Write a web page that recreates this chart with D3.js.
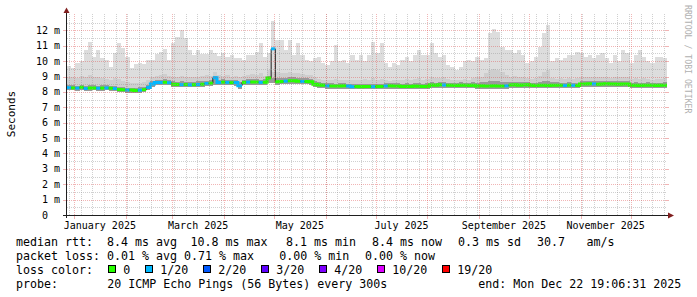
<!DOCTYPE html>
<html>
<head>
<meta charset="utf-8">
<script src="https://cdn.jsdelivr.net/npm/d3@7"></script>
<style>
body { margin: 0; background: #fff; }
text { font-family: "DejaVu Sans Mono", monospace; }
</style>
</head>
<body>
<div id="chart"></div>
<script>
// smokeping style latency graph, last 360 days

var width = 697;
var height = 297;

var endTime = new Date(2025, 11, 22, 19, 6, 31);
var spanDays = 360;
var stepDays = 2.5;

// median rtt per consolidated column (ms)
var medianRtt = [
  8.28,8.26,8.25,8.30,8.22,8.25,8.26,8.24,8.25,8.26,8.24,8.22,
  8.15,8.14,8.13,8.12,8.10,8.12,8.15,8.28,
  8.52,8.62,8.62,8.63,8.60,
  8.50,8.48,8.47,8.48,8.46,8.47,8.48,8.50,8.55,8.57,
  8.92,
  8.62,8.64,8.62,8.60,8.62,
  8.40,
  8.62,8.64,8.65,8.64,8.62,8.63,
  8.90,10.80,
  8.66,8.67,8.70,8.72,8.72,8.70,8.68,8.67,8.66,
  8.50,8.45,8.44,
  8.40,8.39,8.38,8.39,8.40,8.38,
  8.34,8.35,8.34,8.36,8.35,8.34,8.35,8.36,
  8.39,8.40,8.38,8.39,
  8.36,8.37,8.36,8.38,8.37,8.36,8.37,
  8.45,8.44,8.46,8.45,8.44,
  8.43,8.42,8.44,8.43,8.42,8.43,
  8.39,8.40,8.38,8.39,8.40,8.39,8.38,8.40,
  8.45,8.46,8.44,8.45,8.46,
  8.43,8.42,8.44,8.43,8.42,8.43,8.44,8.43,8.42,8.44,8.43,8.42,
  8.52,8.51,8.53,8.52,8.50,8.52,8.53,8.51,8.52,8.50,8.51,8.52,
  8.43,8.44,8.42,8.43,8.44,8.43,8.42,8.43,8.44
];

// lowest ping per column (ms)
var pingMin = [
  8.12,8.10,8.08,8.12,8.06,8.08,8.10,8.08,8.09,8.10,8.08,8.06,
  7.98,7.97,7.96,7.95,7.94,7.96,7.98,8.10,
  8.34,8.44,8.44,8.45,8.42,
  8.32,8.30,8.30,8.31,8.29,8.30,8.31,8.33,8.36,8.38,
  8.45,
  8.44,8.46,8.44,8.42,8.40,
  8.22,
  8.44,8.46,8.47,8.46,8.44,8.45,
  8.55,8.60,
  8.48,8.49,8.52,8.54,8.54,8.52,8.50,8.49,8.48,
  8.32,8.27,8.26,
  8.22,8.21,8.20,8.21,8.22,8.20,
  8.16,8.17,8.16,8.18,8.17,8.16,8.17,8.18,
  8.21,8.22,8.20,8.21,
  8.18,8.19,8.18,8.20,8.19,8.18,8.19,
  8.27,8.26,8.28,8.27,8.26,
  8.25,8.24,8.26,8.25,8.24,8.25,
  8.21,8.22,8.20,8.21,8.22,8.21,8.20,8.22,
  8.27,8.28,8.26,8.27,8.28,
  8.25,8.24,8.26,8.25,8.24,8.25,8.26,8.25,8.24,8.26,8.25,8.24,
  8.34,8.33,8.35,8.34,8.32,8.34,8.35,8.33,8.34,8.32,8.33,8.34,
  8.25,8.26,8.24,8.25,8.26,8.25,8.24,8.25,8.26
];

// inner smoke top (ms)
var pingP75 = [
  8.45,8.42,8.40,8.48,8.40,8.45,8.42,8.40,8.44,8.42,8.40,8.38,
  8.32,8.30,8.28,8.28,8.26,8.30,8.32,8.45,
  8.70,8.80,8.80,8.82,8.78,
  8.68,8.66,8.70,8.66,8.64,8.66,8.68,8.70,8.74,8.76,
  9.05,
  8.80,8.82,8.80,8.78,8.80,
  8.65,
  8.80,8.82,8.84,8.82,8.80,8.82,
  9.05,8.90,
  8.88,8.90,8.92,8.95,8.94,8.92,8.90,8.88,8.86,
  8.68,8.62,8.60,
  8.56,8.55,8.54,8.55,8.56,8.54,
  8.52,8.52,8.50,8.54,8.52,8.52,8.53,8.54,
  8.56,8.58,8.55,8.56,
  8.54,8.55,8.54,8.56,8.55,8.54,8.55,
  8.62,8.60,8.64,8.62,8.60,
  8.60,8.58,8.62,8.60,8.58,8.62,
  8.60,8.62,8.65,8.70,8.72,8.70,8.66,8.62,
  8.64,8.66,8.62,8.64,8.65,
  8.60,8.60,8.64,8.70,8.72,8.62,8.62,8.60,8.60,8.62,8.60,8.60,
  8.70,8.68,8.72,8.70,8.68,8.70,8.72,8.68,8.70,8.68,8.68,8.70,
  8.60,8.62,8.60,8.60,8.62,8.60,8.58,8.60,8.62
];

// middle smoke top (ms)
var pingP90 = [
  9.00,8.95,8.90,9.05,8.95,9.10,8.95,9.00,8.90,8.85,8.80,8.90,
  8.85,8.70,8.65,8.60,8.55,8.60,8.65,8.80,
  9.00,9.05,9.10,9.15,9.05,
  9.00,8.95,9.05,9.00,8.95,8.95,9.00,9.05,9.10,9.05,
  9.30,
  9.10,9.05,9.10,9.00,9.05,
  9.00,
  9.05,9.10,9.15,9.10,9.20,9.05,
  9.40,9.30,
  9.30,9.25,9.20,9.30,9.25,9.20,9.15,9.10,9.10,
  8.95,8.85,8.80,
  8.80,8.75,8.85,8.80,8.75,8.80,
  8.75,8.80,8.75,8.85,8.80,8.90,8.80,8.85,
  8.75,8.70,8.75,8.75,
  8.80,8.85,8.80,8.85,8.90,8.80,8.85,
  8.95,8.90,8.90,8.95,8.85,
  8.80,8.75,8.80,8.85,8.80,8.90,
  8.95,9.00,9.20,9.40,9.50,9.45,9.30,9.10,
  9.00,9.05,8.95,9.00,8.90,
  8.85,8.90,9.05,9.30,9.40,8.90,8.85,8.90,8.85,8.90,8.85,8.90,
  9.00,8.95,9.00,8.95,8.95,9.00,8.95,8.90,9.00,8.95,9.00,8.95,
  8.85,8.90,8.85,8.90,8.85,8.80,8.85,8.85,8.90
];

// highest ping per column (ms)
var pingMax = [
  9.71,9.58,9.90,10.00,10.70,11.25,10.30,10.75,10.20,10.10,9.65,10.55,
  11.15,10.85,10.30,9.55,9.80,9.90,9.80,10.05,10.10,10.45,10.60,10.80,
  10.10,11.15,11.60,12.00,11.50,10.75,10.40,10.70,
  10.45,10.45,10.75,10.55,10.35,10.55,10.30,10.40,10.20,10.20,
  10.10,10.40,10.40,10.60,11.15,10.30,10.50,
  12.60,
  11.40,11.40,10.75,11.40,10.40,11.15,10.40,10.10,10.00,10.20,10.30,9.85,
  9.75,10.00,11.05,10.00,10.10,9.85,10.40,10.10,10.40,10.00,10.40,11.25,
  10.50,11.15,9.85,9.65,9.85,9.75,10.10,10.30,10.00,10.40,10.75,10.40,
  10.40,11.15,10.50,
  10.30,10.40,
  9.75,9.65,9.45,9.65,10.00,10.10,10.00,10.30,10.10,10.20,11.85,12.10,
  11.90,10.95,10.75,10.75,10.50,10.75,10.40,9.85,10.00,10.30,10.95,11.80,
  12.35,10.00,10.20,10.10,10.20,10.40,10.40,10.60,10.50,10.30,10.40,10.20,
  10.40,10.50,10.20,9.85,10.40,10.00,10.70,10.50,9.85,10.40,10.70,10.30,
  10.00,9.85,10.30,10.30,10.20
];

// lost pings (out of 20) per column
var lossCount = [
  1,0,1,0,1,0,0,1,0,1,0,1,0,0,1,0,0,1,0,1,
  1,1,1,0,1,0,0,1,0,1,0,1,0,1,0,1,1,0,1,0,
  1,1,0,1,0,0,1,0,0,1,0,0,1,0,0,0,1,0,0,0,
  0,0,1,0,0,0,0,1,1,0,0,0,0,1,0,0,1,0,0,0,
  0,0,0,0,0,0,0,0,0,0,1,0,0,0,0,0,0,0,0,0,
  0,0,0,0,0,1,0,0,0,0,0,0,0,0,0,0,0,0,0,1,
  0,1,0,0,0,0,1,0,0,0,0,0,0,0,0,0,0,0,0,0,0,0,0,0
];

var lossLevels = [0, 1, 2, 3, 4, 10, 19];
var lossLabels = ["0", "1/20", "2/20", "3/20", "4/20", "10/20", "19/20"];
var lossColors = ["#26ff00", "#00b8ff", "#0059ff", "#5e00ff", "#7e00ff", "#dd00ff", "#ff0000"];

var yTicks = [0, 1, 2, 3, 4, 5, 6, 7, 8, 9, 10, 11, 12];

var rttStats = ["8.4 ms avg", "10.8 ms max", "8.1 ms min", "8.4 ms now", "0.3 ms sd", "30.7", "am/s"];
var lossStats = ["0.01 % avg", "0.71 % max", "0.00 % min", "0.00 % now"];
var probeText = "20 ICMP Echo Pings (56 Bytes) every 300s";
var endText = "end: Mon Dec 22 19:06:31 2025";

var rttX = [107, 190.5, 286, 372, 458, 537, 586.5];
var lossX = [107, 184, 279.3, 365];

var n = medianRtt.length;
var startTime = new Date(endTime.getTime() - spanDays * 864e5);

function colTime(k) {
    return new Date(startTime.getTime() + k * stepDays * 864e5);
}

function lossColor(c) {
    var idx = 0;
    for (var i = 0; i < lossLevels.length; i++) {
        if (c >= lossLevels[i]) idx = i;
    }
    return lossColors[idx];
}

var x = d3.scaleTime()
    .domain([startTime, endTime])
    .range([67, 667]);

var y = d3.scaleLinear()
    .domain([0, 13])
    .range([215, 15]);

var svg = d3.select("#chart")
    .append("svg")
    .attr("width", width)
    .attr("height", height)
    .style("display", "block");

svg.append("rect")
    .attr("width", width)
    .attr("height", height)
    .attr("fill", "#fff");

var plot = svg.append("g").attr("class", "plot");

// columns plus closing point so the last step gets its full width
var cols = d3.range(n + 1).map(function(i) {
    return {t: colTime(i), k: Math.min(i, n - 1)};
});

function smokeBand(top, color) {
    var area = d3.area()
        .curve(d3.curveStepAfter)
        .x(function(d) { return x(d.t); })
        .y0(function(d) { return y(pingMin[d.k]); })
        .y1(function(d) { return y(top[d.k]); });
    plot.append("path")
        .datum(cols)
        .attr("d", area)
        .attr("fill", color)
        .attr("shape-rendering", "crispEdges");
}

smokeBand(pingMax, "#dddddd");
smokeBand(pingP90, "#cecece");
smokeBand(pingP75, "#9a9a9a");

// thin dark median underneath the coloured one
var medLine = d3.line()
    .curve(d3.curveStepAfter)
    .x(function(d) { return x(d.t); })
    .y(function(d) { return y(medianRtt[d.k]); });

plot.append("path")
    .datum(cols)
    .attr("d", medLine)
    .attr("fill", "none")
    .attr("stroke", "#202020")
    .attr("stroke-width", 1);

// coloured median, split into runs of the same loss colour
var k = 0;
while (k < n) {
    var c = lossColor(lossCount[k]);
    var run = [];
    var j = k;
    while (j < n && lossColor(lossCount[j]) == c) {
        run.push({t: colTime(j), k: j});
        j++;
    }
    run.push({t: colTime(j), k: j - 1});
    plot.append("path")
        .datum(run)
        .attr("d", medLine)
        .attr("fill", "none")
        .attr("stroke", c)
        .attr("stroke-width", 3);
    k = j;
}

// grid
var grid = svg.append("g").attr("class", "grid");
var minorCol = "rgba(150,150,150,0.45)";
var majorCol = "rgba(222,79,79,0.42)";

function px(v) { return Math.round(v) + 0.5; }

var halfSteps = d3.range(1, 26, 2).map(function(i) { return i * 0.5; });
halfSteps.forEach(function(v) {
    grid.append("line")
        .attr("x1", 67).attr("x2", 667)
        .attr("y1", px(y(v))).attr("y2", px(y(v)))
        .attr("stroke", minorCol)
        .attr("stroke-dasharray", "1,1");
});

var weeks = d3.timeSunday.range(startTime, endTime);
weeks.forEach(function(t) {
    grid.append("line")
        .attr("x1", px(x(t))).attr("x2", px(x(t)))
        .attr("y1", 215).attr("y2", 14)
        .attr("stroke", minorCol)
        .attr("stroke-dasharray", "1,1");
});

yTicks.slice(1).forEach(function(v) {
    var yy = px(y(v));
    grid.append("line")
        .attr("x1", 67).attr("x2", 667)
        .attr("y1", yy).attr("y2", yy)
        .attr("stroke", majorCol)
        .attr("stroke-dasharray", "1,1");
    grid.append("line")
        .attr("x1", 63).attr("x2", 67)
        .attr("y1", yy).attr("y2", yy)
        .attr("stroke", majorCol);
    grid.append("line")
        .attr("x1", 666).attr("x2", 669)
        .attr("y1", yy).attr("y2", yy)
        .attr("stroke", majorCol);
});

var months = d3.timeMonth.range(startTime, endTime);
months.forEach(function(t) {
    var xx = px(x(t));
    grid.append("line")
        .attr("x1", xx).attr("x2", xx)
        .attr("y1", 215).attr("y2", 14)
        .attr("stroke", majorCol)
        .attr("stroke-dasharray", "1,1");
    grid.append("line")
        .attr("x1", xx).attr("x2", xx)
        .attr("y1", 215).attr("y2", 219)
        .attr("stroke", majorCol);
});

// axes
var axisCol = "#1f1f1f";
var arrowCol = "#801f1f";

svg.append("line")
    .attr("x1", 63).attr("x2", 670)
    .attr("y1", 215.5).attr("y2", 215.5)
    .attr("stroke", axisCol);

svg.append("line")
    .attr("x1", 66.5).attr("x2", 66.5)
    .attr("y1", 218).attr("y2", 10)
    .attr("stroke", axisCol);

svg.append("path")
    .attr("d", "M668,212.5 L674,215.5 L668,218.5 Z")
    .attr("fill", arrowCol);

svg.append("path")
    .attr("d", "M63.5,13 L66.5,7.5 L69.5,13 Z")
    .attr("fill", arrowCol);

// y labels
var ylab = svg.append("g").style("font-size", "10px").attr("fill", "#000");
yTicks.forEach(function(v) {
    if (v == 0) {
        ylab.append("text")
            .attr("x", 48).attr("y", y(v) + 3.5)
            .attr("text-anchor", "end")
            .text("0");
    }
    else {
        ylab.append("text")
            .attr("x", 60).attr("y", y(v) + 3.5)
            .attr("text-anchor", "end")
            .text(v + " m");
    }
});

// x labels, centred on the month
var fmtMonth = d3.timeFormat("%B %Y");
var labelMonths = d3.timeMonth.every(2).range(startTime, endTime);
labelMonths.forEach(function(t) {
    var next = d3.timeMonth.offset(t, 1);
    if (next > endTime) return;
    ylab.append("text")
        .attr("x", (x(t) + x(next)) / 2)
        .attr("y", 228.5)
        .attr("text-anchor", "middle")
        .text(fmtMonth(t));
});

// unit label
svg.append("text")
    .attr("transform", "translate(14.5,114) rotate(-90)")
    .attr("text-anchor", "middle")
    .style("font-size", "11px")
    .text("Seconds");

// watermark
svg.append("text")
    .attr("transform", "translate(684.5,5) rotate(90)")
    .style("font-size", "8.2px")
    .attr("fill", "#b0b0b0")
    .text("RRDTOOL / TOBI OETIKER");

// legend
var legend = svg.append("g").style("font-size", "11.63px").attr("fill", "#000");

legend.append("text").attr("x", 16).attr("y", 245.5).text("median rtt:");
rttStats.forEach(function(s, i) {
    legend.append("text").attr("x", rttX[i]).attr("y", 245.5).text(s);
});

legend.append("text").attr("x", 16).attr("y", 259.5).text("packet loss:");
lossStats.forEach(function(s, i) {
    legend.append("text").attr("x", lossX[i]).attr("y", 259.5).text(s);
});

legend.append("text").attr("x", 16).attr("y", 273.5).text("loss color:");
var lx = 108.5;
lossLabels.forEach(function(s, i) {
    legend.append("rect")
        .attr("x", lx).attr("y", 265.5)
        .attr("width", 7).attr("height", 7)
        .attr("fill", lossColors[i])
        .attr("stroke", "#000")
        .attr("stroke-width", 1);
    legend.append("text").attr("x", lx + 14.7).attr("y", 273.5).text(s);
    lx += 30 + s.length * 7;
});

legend.append("text").attr("x", 16).attr("y", 287.5).text("probe:");
legend.append("text").attr("x", 107.3).attr("y", 287.5).text(probeText);
legend.append("text").attr("x", 478.3).attr("y", 287.5).text(endText);
</script>
</body>
</html>
